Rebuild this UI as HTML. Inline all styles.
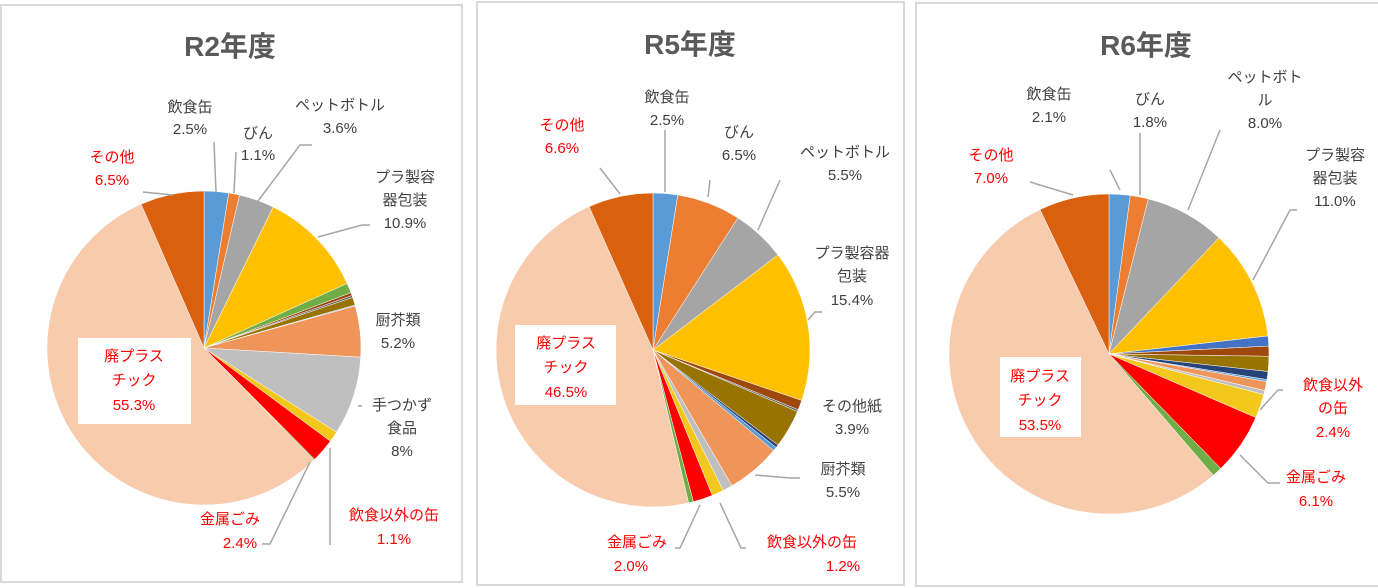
<!DOCTYPE html>
<html><head><meta charset="utf-8"><style>
body{margin:0;width:1378px;height:588px;background:#fff;overflow:hidden;font-family:"Liberation Sans","Noto Sans CJK JP",sans-serif}
svg{position:absolute;left:0;top:0}
text{font-family:"Liberation Sans","Noto Sans CJK JP",sans-serif}
</style></head><body>
<svg id="chart" width="1378" height="588">
<rect x="1" y="5" width="461" height="577" fill="#fff" stroke="#d9d9d9" stroke-width="2"/>
<rect x="477" y="2" width="427" height="583" fill="#fff" stroke="#d9d9d9" stroke-width="2"/>
<rect x="916" y="3" width="470" height="583" fill="#fff" stroke="#d9d9d9" stroke-width="2"/>
<g font-size="28" font-weight="bold" fill="#595959" text-anchor="middle">
<text x="230" y="56">R2年度</text>
<text x="690" y="54">R5年度</text>
<text x="1146" y="55">R6年度</text>
</g>
<g id="pies"></g>
<g fill="none" stroke="#a6a6a6" stroke-width="1.5">
<polyline points="214,142 216,192"/><polyline points="236,152 234,193"/><polyline points="312,145 300,145 258,201"/>
<polyline points="370,225 362,225 318,237"/><polyline points="143,192 173,195"/><polyline points="362,406 358,406"/>
<polyline points="330,545 330,448"/><polyline points="262,544 270,544 310,462"/>
<polyline points="665,130 665,192"/><polyline points="710,180 708,197"/><polyline points="780,180 758,230"/>
<polyline points="822,312 815,312 808,320"/><polyline points="600,168 620,194"/><polyline points="800,478 790,478 755,475"/>
<polyline points="746,548 741,548 720,503"/><polyline points="675,548 680,548 700,505"/>
<polyline points="1110,170 1120,190"/><polyline points="1140,133 1140,195"/><polyline points="1220,130 1188,210"/>
<polyline points="1297,210 1290,210 1253,280"/><polyline points="1030,182 1073,195"/>
<polyline points="1283,390 1278,390 1260,410"/><polyline points="1280,483 1268,483 1240,455"/>
</g>
<rect x="78" y="338" width="113" height="86" fill="#fff"/>
<rect x="515" y="325" width="101" height="80" fill="#fff"/>
<rect x="1000" y="357" width="81" height="80" fill="#fff"/>
<g font-size="15" fill="#404040" text-anchor="middle">
<text x="190" y="112">飲食缶</text><text x="190" y="134">2.5%</text>
<text x="258" y="138">びん</text><text x="258" y="160">1.1%</text>
<text x="340" y="110">ペットボトル</text><text x="340" y="133">3.6%</text>
<text x="405" y="182">プラ製容</text><text x="405" y="205">器包装</text><text x="405" y="228">10.9%</text>
<text x="398" y="325">厨芥類</text><text x="398" y="348">5.2%</text>
<text x="402" y="410">手つかず</text><text x="402" y="433">食品</text><text x="402" y="456">8%</text>
<g fill="#ff0000"><text x="394" y="520">飲食以外の缶</text><text x="394" y="544">1.1%</text>
<text x="230" y="524">金属ごみ</text><text x="240" y="548">2.4%</text>
<text x="112" y="162">その他</text><text x="112" y="185">6.5%</text>
<text x="134" y="361">廃プラス</text><text x="134" y="385">チック</text><text x="134" y="410">55.3%</text></g>
<text x="667" y="102">飲食缶</text><text x="667" y="125">2.5%</text>
<text x="739" y="137">びん</text><text x="739" y="160">6.5%</text>
<text x="845" y="157">ペットボトル</text><text x="845" y="180">5.5%</text>
<text x="852" y="258">プラ製容器</text><text x="852" y="281">包装</text><text x="852" y="305">15.4%</text>
<text x="852" y="411">その他紙</text><text x="852" y="434">3.9%</text>
<text x="843" y="474">厨芥類</text><text x="843" y="497">5.5%</text>
<g fill="#ff0000"><text x="812" y="547">飲食以外の缶</text><text x="843" y="571">1.2%</text>
<text x="637" y="547">金属ごみ</text><text x="631" y="571">2.0%</text>
<text x="562" y="130">その他</text><text x="562" y="153">6.6%</text>
<text x="566" y="348">廃プラス</text><text x="566" y="372">チック</text><text x="566" y="397">46.5%</text></g>
<text x="1049" y="99">飲食缶</text><text x="1049" y="122">2.1%</text>
<text x="1150" y="104">びん</text><text x="1150" y="127">1.8%</text>
<text x="1265" y="82">ペットボト</text><text x="1265" y="105">ル</text><text x="1265" y="128">8.0%</text>
<text x="1335" y="160">プラ製容</text><text x="1335" y="183">器包装</text><text x="1335" y="206">11.0%</text>
<g fill="#ff0000"><text x="1333" y="390">飲食以外</text><text x="1333" y="413">の缶</text><text x="1333" y="437">2.4%</text>
<text x="1316" y="482">金属ごみ</text><text x="1316" y="506">6.1%</text>
<text x="991" y="160">その他</text><text x="991" y="183">7.0%</text>
<text x="1040" y="381">廃プラス</text><text x="1040" y="405">チック</text><text x="1040" y="430">53.5%</text></g>
</g>
</svg>
<script>
const colors = ["#5b9bd5","#ed7d31","#a5a5a5","#ffc000","#70ad47","#9e480e","#636363","#997300","#5b9bd5","#f0955a","#bfbfbf","#f2c81c","#ff0000","#70ad47","#f8cbad","#d9600f"];
const colorsR5 = ["#5b9bd5","#ed7d31","#a5a5a5","#ffc000","#9e480e","#636363","#997300","#264478","#5b9bd5","#f0955a","#bfbfbf","#f2c81c","#ff0000","#70ad47","#f8cbad","#d9600f"];
const colorsR6 = ["#5b9bd5","#ed7d31","#a5a5a5","#ffc000","#4472c4","#9e480e","#997300","#264478","#5b9bd5","#f0955a","#bfbfbf","#f2c81c","#ff0000","#70ad47","#f8cbad","#d9600f"];
const valuesR2 = [2.5,1.1,3.6,10.9,1.0,0.3,0.2,0.8,0.1,5.2,8.0,1.1,2.4,0.1,55.3,6.5];
const valuesR5 = [2.5,6.5,5.5,15.4,1.0,0.2,3.9,0.3,0.4,5.5,1.0,1.2,2.0,0.5,46.5,6.6];
const valuesR6 = [2.1,1.8,8.0,11.0,1.0,1.0,1.5,0.8,0.2,0.9,0.4,2.4,6.1,1.0,53.5,7.0];
const g = document.getElementById('pies');
function drawPie(vals, cols, cx, cy, r, name){
  const total = vals.reduce((a,b)=>a+b,0);
  let a0 = 0;
  vals.forEach((v,i)=>{
    const a1 = a0 + v/total*2*Math.PI;
    const x0 = cx + r*Math.sin(a0), y0 = cy - r*Math.cos(a0);
    const x1 = cx + r*Math.sin(a1), y1 = cy - r*Math.cos(a1);
    const large = (a1-a0) > Math.PI ? 1 : 0;
    const p = document.createElementNS('http://www.w3.org/2000/svg','path');
    p.setAttribute('d', `M${cx},${cy} L${x0},${y0} A${r},${r} 0 ${large} 1 ${x1},${y1} Z`);
    p.setAttribute('fill', cols[i]);
    p.setAttribute('stroke', '#fff');
    p.setAttribute('stroke-width', '0.5');
    
    
    g.appendChild(p);
    a0 = a1;
  });
}
drawPie(valuesR2, colors, 204, 348, 157, 'r2');
drawPie(valuesR5, colorsR5, 653, 350, 157, 'r5');
drawPie(valuesR6, colorsR6, 1109, 354, 160, 'r6');
</script>
</body></html>
